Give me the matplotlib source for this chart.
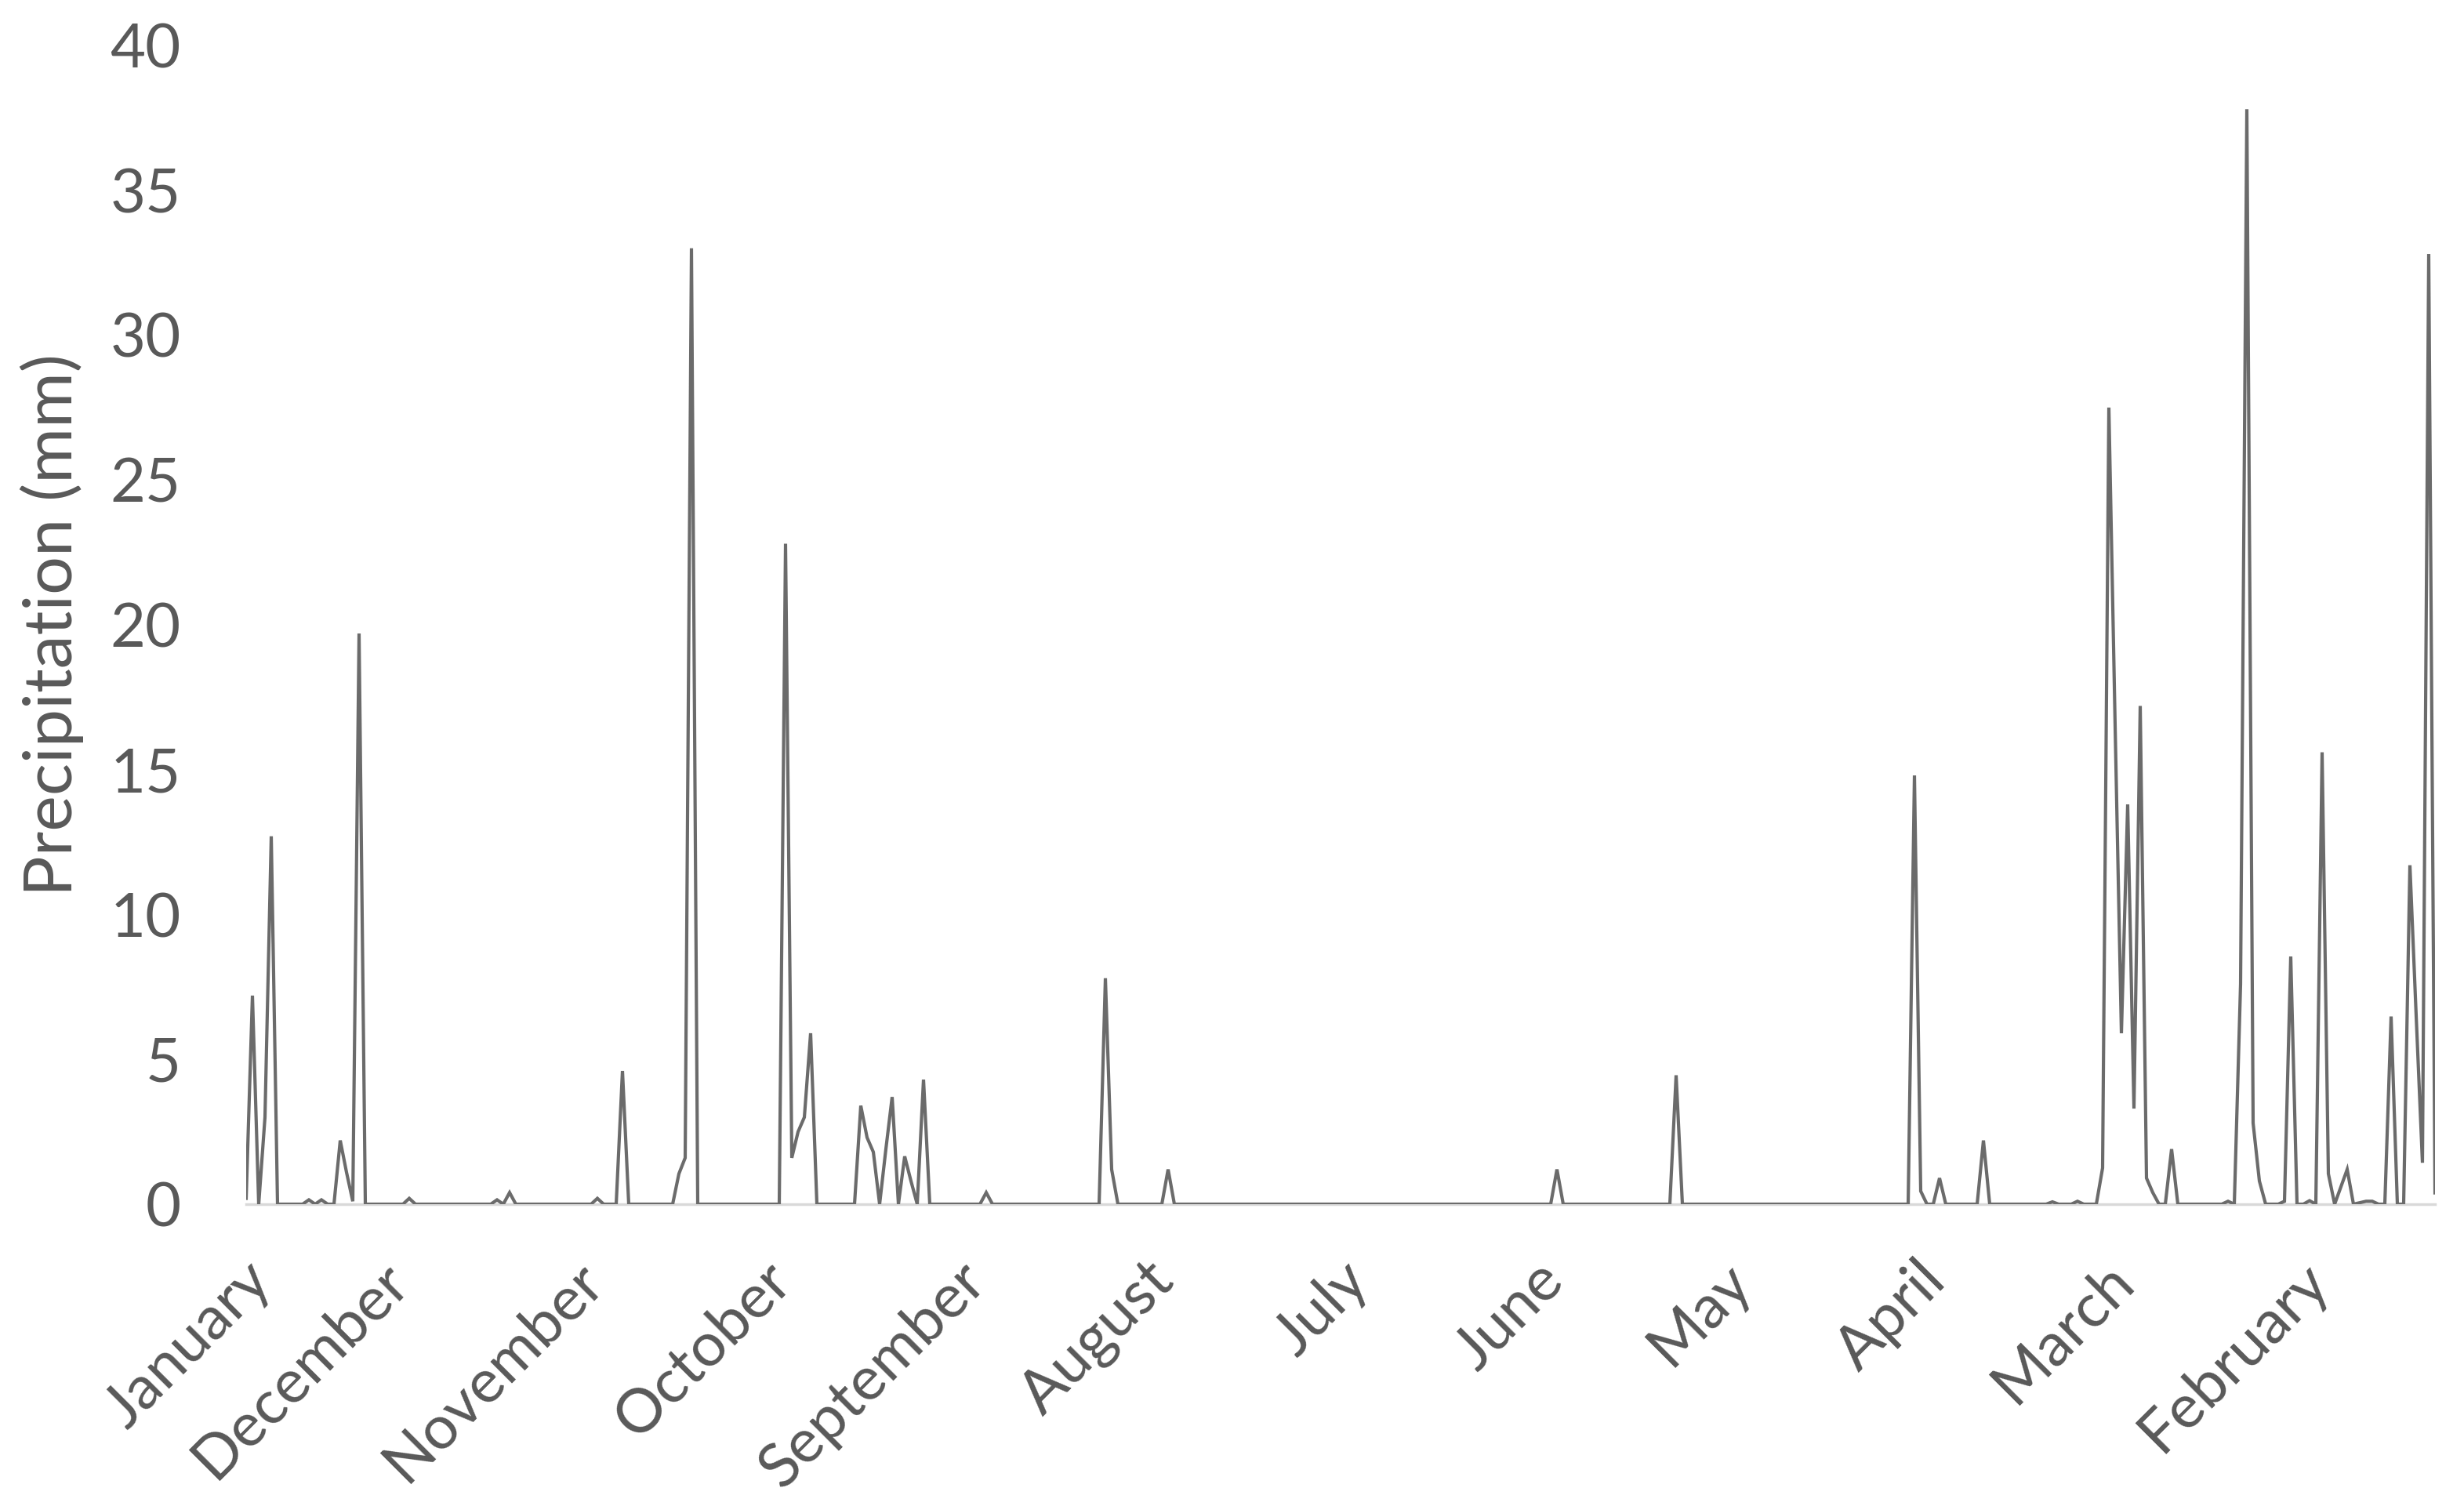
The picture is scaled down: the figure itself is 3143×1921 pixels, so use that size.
import numpy as np
import matplotlib
matplotlib.use('Agg')
import matplotlib.pyplot as plt
from matplotlib.transforms import ScaledTranslation

# daily precipitation (mm), newest first, one list per month
jan = [0.2, 7.2, 0, 3.0, 12.7, 0, 0, 0, 0, 0, 0.15, 0, 0.15, 0, 0, 2.2, 1.1, 0.1, 19.7, 0, 0, 0]
dec = [0, 0, 0, 0, 0.2, 0, 0, 0, 0, 0, 0, 0, 0, 0, 0, 0, 0, 0, 0.15, 0, 0.4, 0, 0, 0, 0, 0, 0, 0, 0, 0, 0]
nov = [0, 0, 0, 0.2, 0, 0, 0, 4.6, 0, 0, 0, 0, 0, 0, 0, 0, 1.05, 1.6, 33.0, 0, 0, 0, 0, 0, 0, 0, 0, 0, 0, 0]
oct_ = [0, 0, 0, 22.8, 1.6, 2.5, 3.0, 5.9, 0, 0, 0, 0, 0, 0, 0, 3.4, 2.3, 1.8, 0, 1.9, 3.7, 0, 1.65, 0.8, 0, 4.3, 0, 0, 0, 0, 0]
sep = [0, 0, 0, 0, 0.4, 0, 0, 0, 0, 0, 0, 0, 0, 0, 0, 0, 0, 0, 0, 0, 0, 0, 0, 7.8, 1.2, 0, 0, 0, 0, 0]
aug = [0, 0, 0, 1.2, 0, 0, 0, 0, 0, 0, 0, 0, 0, 0, 0, 0, 0, 0, 0, 0, 0, 0, 0, 0, 0, 0, 0, 0, 0, 0, 0]
jul = [0, 0, 0, 0, 0, 0, 0, 0, 0, 0, 0, 0, 0, 0, 0, 0, 0, 0, 0, 0, 0, 0, 0, 0, 0, 0, 0, 0, 0, 0, 0]
jun = [0, 0, 0, 1.2, 0, 0, 0, 0, 0, 0, 0, 0, 0, 0, 0, 0, 0, 0, 0, 0, 0, 0, 4.45, 0, 0, 0, 0, 0, 0, 0]
may = [0, 0, 0, 0, 0, 0, 0, 0, 0, 0, 0, 0, 0, 0, 0, 0, 0, 0, 0, 0, 0, 0, 0, 0, 0, 0, 0, 0, 0, 0, 14.8]
apr = [0.45, 0, 0, 0.9, 0, 0, 0, 0, 0, 0, 2.2, 0, 0, 0, 0, 0, 0, 0, 0, 0, 0, 0.08, 0, 0, 0, 0.1, 0, 0, 0, 1.25]
mar = [27.5, 16.5, 5.9, 13.8, 3.3, 17.2, 0.9, 0.4, 0, 0, 1.9, 0, 0, 0, 0, 0, 0, 0, 0, 0.1, 0,
       7.6, 37.8, 2.8, 0.8, 0, 0, 0, 0.1, 8.55, 0]
feb = [0, 0.12, 0, 15.6, 1.05, 0, 0.6, 1.2, 0, 0.05, 0.1, 0.1, 0, 0, 6.48, 0, 0, 11.7, 6.5, 1.43, 32.8, 0.39]

months = ['January', 'December', 'November', 'October', 'September', 'August',
          'July', 'June', 'May', 'April', 'March', 'February']
month_data = [jan, dec, nov, oct_, sep, aug, jul, jun, may, apr, mar, feb]

values = np.concatenate(month_data)
x = np.arange(len(values))
tick_pos = np.cumsum([0] + [len(m) for m in month_data[:-1]])

plt.rcParams['font.family'] = ['Lato', 'DejaVu Sans']
text_color = '#595959'

fig = plt.figure(figsize=(31.43, 19.21), dpi=100)
ax_w = (3106 - 314) / 3143
ax = fig.add_axes([314 / 3143, 385 / 1921, ax_w, (1536 - 58) / 1921])

ax.plot(x, values, color='#6b6b6b', lw=3.0, solid_joinstyle='miter', zorder=3)

ax.set_xlim(0, len(values) - 1)
ax.set_ylim(0, 40)
ax.set_yticks(np.arange(0, 41, 5))
ax.set_xticks(tick_pos)
ax.set_xticklabels(months, rotation=45, ha='right', va='center', rotation_mode='anchor')

for s in ['top', 'right', 'left']:
    ax.spines[s].set_visible(False)
ax.spines['bottom'].set_color('#d9d9d9')
ax.spines['bottom'].set_linewidth(2.5)
ax.spines['bottom'].set_zorder(1)

ax.tick_params(axis='y', length=0, pad=60, labelsize=56, labelcolor=text_color)
ax.tick_params(axis='x', length=0, pad=62, labelsize=56, labelcolor=text_color)

# nudge the month labels a little to the right, like the original
shift = ScaledTranslation(0.2, 0, fig.dpi_scale_trans)
for lbl in ax.get_xticklabels():
    lbl.set_transform(lbl.get_transform() + shift)

ax.set_ylabel('Precipitation (mm)', fontsize=62, color=text_color)
ax.yaxis.label.set_va('center')
ax.yaxis.set_label_coords((66 - 314) / 3143 / ax_w, 0.5)

fig.savefig('out.png', dpi=100, facecolor='white')
